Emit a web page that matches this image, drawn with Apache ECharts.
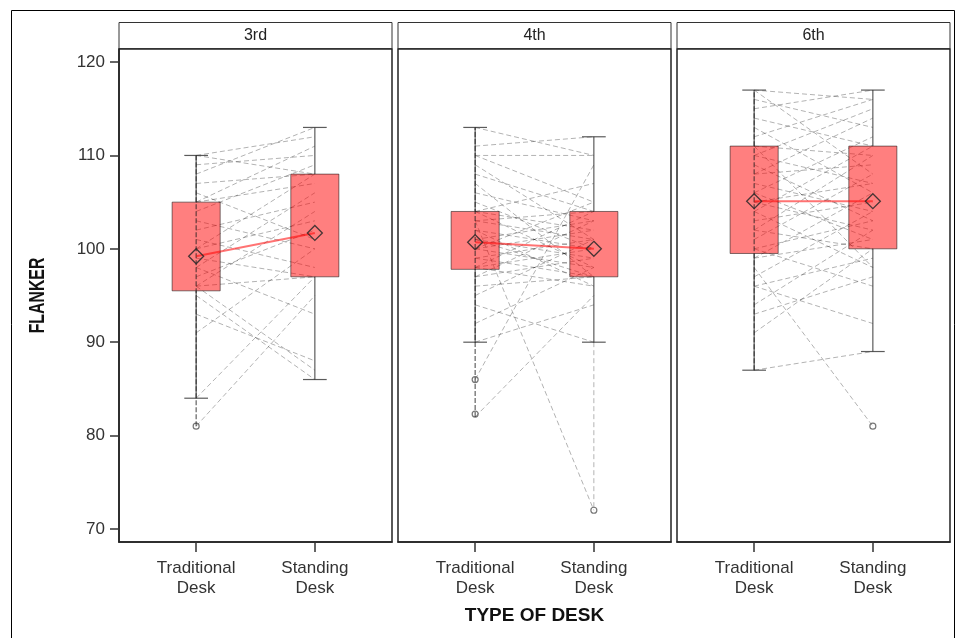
<!DOCTYPE html>
<html><head><meta charset="utf-8">
<script src="https://cdn.jsdelivr.net/npm/echarts@6/dist/echarts.min.js"></script>
<style>html,body{margin:0;padding:0;background:#fff}#c{width:956px;height:638px}</style>
</head><body><div id="c"></div>
<script>
// ---------- data ----------
const grades = ['3rd', '4th', '6th'];
const deskLabels = ['Traditional\nDesk', 'Standing\nDesk'];
const yTicks = [70, 80, 90, 100, 110, 120];
const yTitle = 'FLANKER';
const xTitle = 'TYPE OF DESK';

// box statistics per grade: [traditional, standing]
const whiskerLow  = [[84, 86], [90, 90], [87, 89]];
const q1          = [[95.5, 97], [97.8, 97], [99.5, 100]];
const q3          = [[105, 108], [104, 104], [111, 111]];
const whiskerHigh = [[110, 113], [113, 112], [117, 117]];
const means       = [[99.2, 101.7], [100.7, 100.0], [105.1, 105.1]];
const outliers    = [[[81], []], [[86, 82.3], [72]], [[], [81]]];

// individual students (traditional -> standing)
const trad3  = [81, 84, 91, 93, 95, 96, 96, 96, 97, 98, 98, 99, 100, 100, 101, 102, 103, 104, 105, 105, 106, 107, 108, 109, 110, 110];
const stand3 = [95, 97, 100, 88, 86, 87, 104, 97, 102, 93, 106, 97, 103, 108, 98, 105, 100, 109, 107, 111, 101, 108, 113, 110, 108, 112];
const trad4  = [82, 86, 90, 92, 94, 95, 96, 97, 97, 98, 98, 98, 99, 99, 100, 100, 100, 101, 101, 101, 102, 102, 103, 103, 103, 104, 104, 104, 105, 106, 107, 108, 109, 110, 111, 113, 110];
const stand4 = [95, 109, 94, 98, 90, 101, 97, 99, 103, 96, 100, 104, 97, 101, 98, 102, 105, 99, 97, 103, 100, 96, 72, 101, 104, 98, 102, 107, 100, 103, 97, 104, 101, 110, 112, 110, 105];
const trad6  = [87, 91, 94, 96, 97, 98, 99, 99, 100, 100, 101, 102, 102, 103, 104, 104, 105, 105, 106, 106, 107, 108, 108, 109, 110, 110, 111, 111, 112, 113, 114, 115, 116, 117, 117, 96, 93];
const stand6 = [89, 100, 102, 99, 104, 81, 106, 101, 96, 103, 108, 100, 110, 105, 98, 111, 102, 107, 112, 101, 104, 109, 114, 103, 107, 115, 110, 98, 116, 106, 111, 117, 113, 108, 116, 92, 97];
const standChain = [[], [90, 72], []];

// ---------- layout / style ----------
const tradAll = [trad3, trad4, trad6];
const standAll = [stand3, stand4, stand6];
const PANEL_LEFT = [119, 398, 677];
const PANEL_W = 273, PLOT_TOP = 49, PLOT_H = 493;
const Y_MIN = 68.6, Y_MAX = 121.4;
const FONT = "'Liberation Sans', Arial, Helvetica, sans-serif";

const chart = echarts.init(document.getElementById('c'), null, {renderer: 'canvas'});

const grids = grades.map((g, i) => ({
  left: PANEL_LEFT[i], top: PLOT_TOP, width: PANEL_W, height: PLOT_H,
  show: true, borderColor: '#222', borderWidth: 1.5, backgroundColor: 'rgba(0,0,0,0)'
}));

const xAxes = grades.map((g, i) => ({
  gridIndex: i, type: 'value', min: -0.65, max: 1.65,
  splitLine: {show: false},
  axisLine: {show: true, onZero: false, lineStyle: {color: '#222', width: 1.5}},
  axisTick: {show: true, customValues: [0, 1], length: 10, lineStyle: {color: '#333', width: 1.5}},
  axisLabel: {customValues: [0, 1], formatter: v => deskLabels[Math.round(v)], margin: 16,
    fontSize: 17, lineHeight: 20, color: '#333', fontFamily: FONT},
  name: i === 1 ? xTitle : '', nameLocation: 'middle', nameGap: 64,
  nameTextStyle: {fontSize: 19, fontWeight: 'bold', color: '#111', fontFamily: FONT}
}));

const yAxes = grades.map((g, i) => ({
  gridIndex: i, type: 'value', min: Y_MIN, max: Y_MAX, show: i === 0,
  splitLine: {show: false},
  axisLine: {show: true, onZero: false, lineStyle: {color: '#222', width: 1.5}},
  axisTick: {show: true, customValues: yTicks, length: 9, lineStyle: {color: '#333', width: 1.5}},
  axisLabel: {customValues: yTicks, margin: 14, fontSize: 17, color: '#333', fontFamily: FONT}
}));

const series = [];
grades.forEach((g, i) => {
  const tr = tradAll[i], st = standAll[i];
  // spaghetti lines
  series.push({
    type: 'custom', xAxisIndex: i, yAxisIndex: i, silent: true,
    data: tr.map((v, k) => [0, v, 1, st[k]]),
    encode: {x: [0, 2], y: [1, 3]},
    renderItem: (params, api) => {
      const a = api.coord([api.value(0), api.value(1)]);
      const b = api.coord([api.value(2), api.value(3)]);
      return {type: 'line', shape: {x1: a[0], y1: a[1], x2: b[0], y2: b[1]},
        style: {stroke: 'rgba(0,0,0,0.3)', lineWidth: 1, lineDash: [5, 3]}};
    }
  });
  // vertical chains
  series.push({
    type: 'line', xAxisIndex: i, yAxisIndex: i, silent: true, symbol: 'none',
    data: tr.slice().sort((a, b) => a - b).map(v => [0, v]),
    lineStyle: {color: 'rgba(30,30,30,0.7)', width: 1.2, type: [5, 2]}
  });
  if (standChain[i].length) series.push({
    type: 'line', xAxisIndex: i, yAxisIndex: i, silent: true, symbol: 'none',
    data: standChain[i].map(v => [1, v]),
    lineStyle: {color: 'rgba(0,0,0,0.3)', width: 1, type: [5, 3]}
  });
  // boxes
  series.push({
    type: 'custom', xAxisIndex: i, yAxisIndex: i, silent: true,
    data: [0, 1].map(d => [d, whiskerLow[i][d], q1[i][d], q3[i][d], whiskerHigh[i][d]]),
    encode: {x: 0, y: [1, 2, 3, 4]},
    renderItem: (params, api) => {
      const x = api.value(0);
      const pLo = api.coord([x, api.value(1)]);
      const pQ1 = api.coord([x, api.value(2)]);
      const pQ3 = api.coord([x, api.value(3)]);
      const pHi = api.coord([x, api.value(4)]);
      const bw = api.size([0.405, 0])[0];
      const cw = api.size([0.2, 0])[0];
      const ws = {stroke: 'rgba(50,50,50,0.8)', lineWidth: 1.2};
      return {type: 'group', children: [
        {type: 'line', shape: {x1: pHi[0], y1: pHi[1], x2: pQ3[0], y2: pQ3[1]}, style: ws},
        {type: 'line', shape: {x1: pLo[0], y1: pLo[1], x2: pQ1[0], y2: pQ1[1]}, style: ws},
        {type: 'line', shape: {x1: pHi[0] - cw / 2, y1: pHi[1], x2: pHi[0] + cw / 2, y2: pHi[1]}, style: ws},
        {type: 'line', shape: {x1: pLo[0] - cw / 2, y1: pLo[1], x2: pLo[0] + cw / 2, y2: pLo[1]}, style: ws},
        {type: 'rect', shape: {x: pQ3[0] - bw / 2, y: pQ3[1], width: bw, height: pQ1[1] - pQ3[1]},
          style: {fill: 'rgba(255,0,0,0.5)', stroke: 'rgba(0,0,0,0.5)', lineWidth: 1}}
      ]};
    }
  });
  // outliers
  series.push({
    type: 'scatter', xAxisIndex: i, yAxisIndex: i, silent: true,
    symbol: 'circle', symbolSize: 6,
    data: [0, 1].flatMap(d => outliers[i][d].map(v => [d, v])),
    itemStyle: {color: 'rgba(255,255,255,0)', borderColor: '#555', borderWidth: 1.2}
  });
  // means
  series.push({
    type: 'line', xAxisIndex: i, yAxisIndex: i, silent: true,
    symbol: 'diamond', symbolSize: [15, 15], showSymbol: true,
    data: [0, 1].map(d => [d, means[i][d]]),
    lineStyle: {color: 'rgba(255,0,0,0.55)', width: 2},
    itemStyle: {color: 'rgba(0,0,0,0)', borderColor: 'rgba(40,40,40,0.85)', borderWidth: 1.3}
  });
});

const graphic = [
  {type: 'rect', silent: true, z: 0, shape: {x: 11.5, y: 10.5, width: 943, height: 640},
    style: {fill: 'none', stroke: '#000', lineWidth: 1}},
  {type: 'text', silent: true, x: 38, y: PLOT_TOP + PLOT_H / 2, rotation: Math.PI / 2, scaleX: 0.72,
    style: {text: yTitle, font: 'bold 22px ' + FONT, fill: '#111', align: 'center', verticalAlign: 'middle'}}
];
grades.forEach((g, i) => {
  graphic.push({type: 'rect', silent: true, shape: {x: PANEL_LEFT[i], y: 22.5, width: PANEL_W, height: 26},
    style: {fill: '#fff', stroke: '#333', lineWidth: 1}});
  graphic.push({type: 'text', silent: true, x: PANEL_LEFT[i] + PANEL_W / 2, y: 36,
    style: {text: g, font: '16px ' + FONT, fill: '#222', align: 'center', verticalAlign: 'middle'}});
});

chart.setOption({
  animation: false, backgroundColor: '#fff',
  grid: grids, xAxis: xAxes, yAxis: yAxes, series: series, graphic: graphic
});
</script>
</body></html>
